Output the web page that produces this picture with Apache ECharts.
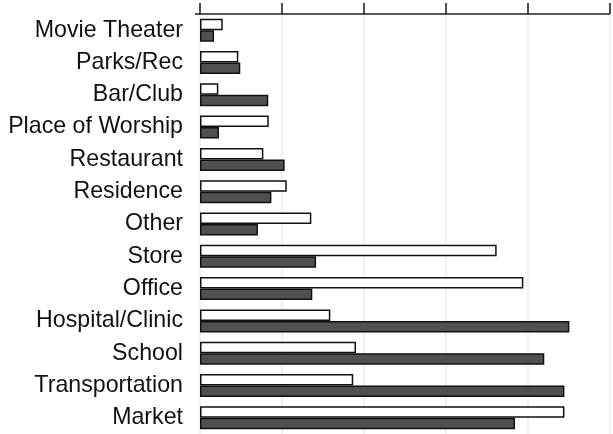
<!DOCTYPE html>
<html>
<head>
<meta charset="utf-8">
<script src="https://cdn.jsdelivr.net/npm/echarts@6/dist/echarts.min.js"></script>
<style>
html,body{margin:0;padding:0;background:#fff;}
#c{width:613px;height:434px;}
</style>
</head>
<body>
<div id="c"></div>
<script>
const categories = ["Movie Theater","Parks/Rec","Bar/Club","Place of Worship","Restaurant","Residence","Other","Store","Office","Hospital/Clinic","School","Transportation","Market"];
const seriesA = [1.39, 2.34, 1.12, 4.20, 3.87, 5.30, 6.80, 18.12, 19.75, 7.96, 9.53, 9.36, 22.26];
const seriesB = [0.86, 2.46, 4.17, 1.16, 5.17, 4.36, 3.54, 7.09, 6.86, 22.56, 21.03, 22.26, 19.24];
const xTicks = [0, 5, 10, 15, 20, 25];

const chart = echarts.init(document.getElementById('c'), null, {renderer: 'canvas'});
chart.setOption({
  animation: false,
  backgroundColor: '#ffffff',
  grid: {left: 200, right: 3.7, top: 14, bottom: 0, containLabel: false},
  xAxis: {
    type: 'value',
    position: 'top',
    min: xTicks[0],
    max: xTicks[xTicks.length - 1],
    interval: xTicks[1] - xTicks[0],
    axisLine: {show: true, lineStyle: {color: '#222', width: 1.6}},
    axisTick: {show: true, inside: false, length: 11, lineStyle: {color: '#222', width: 1.6}},
    axisLabel: {show: false},
    splitLine: {show: true, lineStyle: {color: '#e4eef2', width: 1.5}}
  },
  yAxis: {
    type: 'category',
    data: categories,
    inverse: true,
    axisLine: {show: false},
    axisTick: {show: false},
    splitLine: {show: false},
    axisLabel: {
      color: '#111',
      fontFamily: 'Liberation Sans, Arial, sans-serif',
      fontSize: 23.2,
      margin: 17
    }
  },
  series: [
    {
      type: 'bar',
      data: seriesA,
      barWidth: 11.5,
      barGap: '0%',
      itemStyle: {color: '#ffffff', borderColor: '#111', borderWidth: 1.5}
    },
    {
      type: 'bar',
      data: seriesB,
      barWidth: 11.5,
      barGap: '0%',
      itemStyle: {color: '#505050', borderColor: '#111', borderWidth: 1.5}
    }
  ]
});
// extend the top axis line slightly to the left of the plot, as in the reference
const p0 = chart.convertToPixel({xAxisIndex: 0}, xTicks[0]);
chart.setOption({
  graphic: [{
    type: 'line',
    shape: {x1: p0 - 5, y1: 14, x2: p0, y2: 14},
    style: {stroke: '#222', lineWidth: 1.6}
  }]
});
</script>
</body>
</html>
